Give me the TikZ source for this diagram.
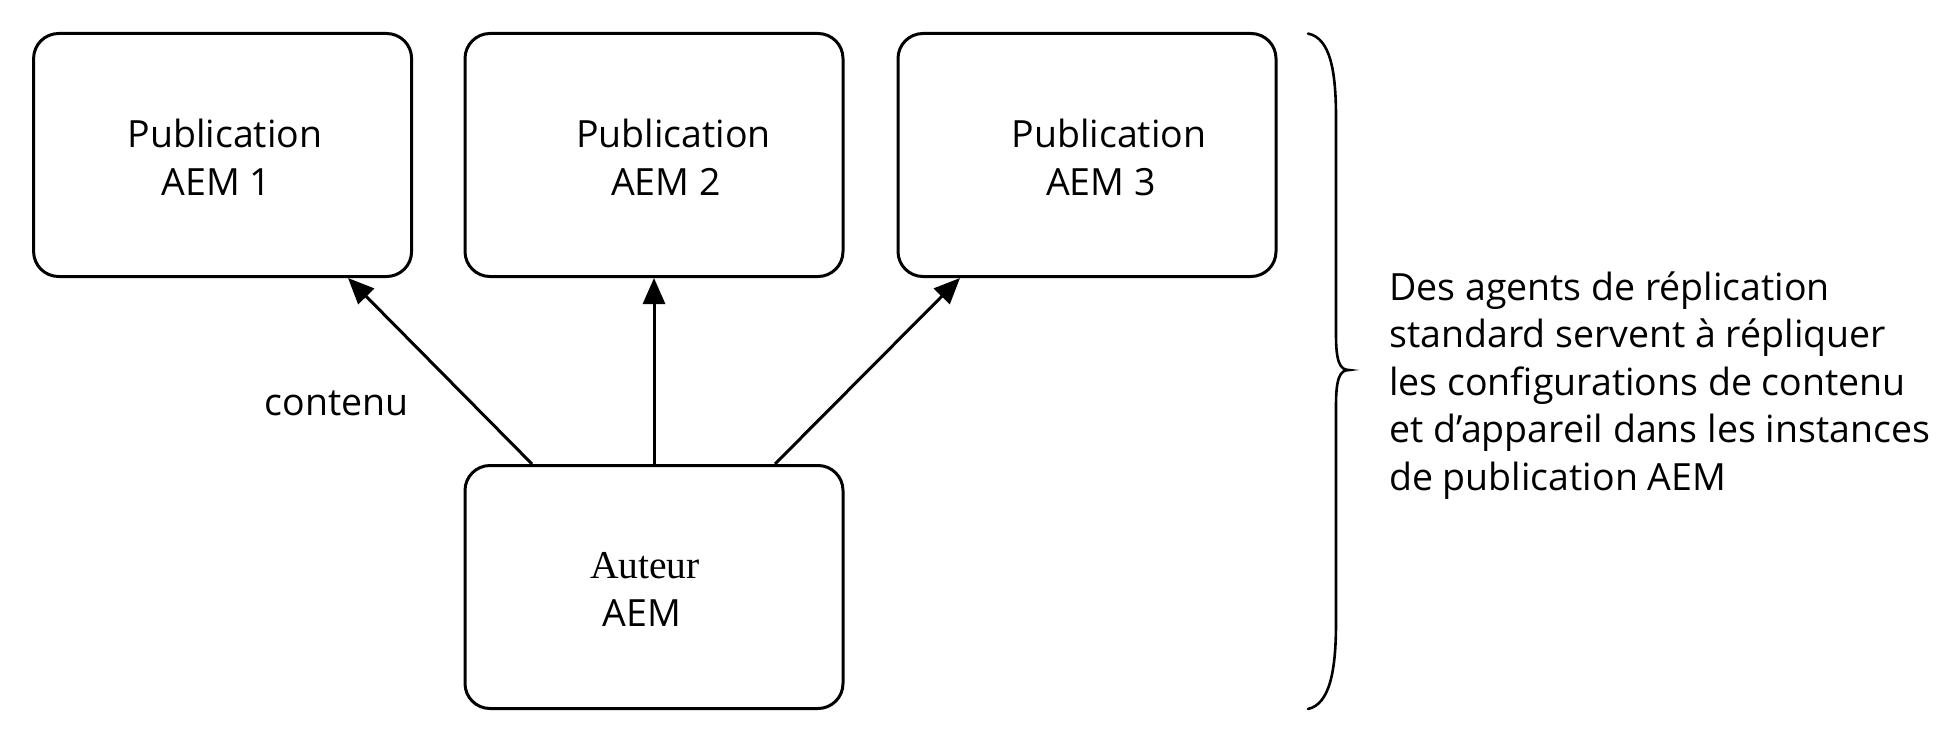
\documentclass[tikz,border=0pt]{standalone}
\usepackage{fontspec}
\setmainfont{Open Sans}
\newfontfamily\serifA{Liberation Serif}
\usetikzlibrary{arrows.meta}
\begin{document}
\begin{tikzpicture}[x=1pt,y=-1pt,
  box/.style={draw, line width=3pt, rounded corners=25pt, minimum width=378pt, minimum height=243pt, inner sep=0pt},
  txt/.style={anchor=base, font=\fontsize{37.5}{48}\selectfont, inner sep=0pt},
  side/.style={anchor=base west, font=\fontsize{37.5}{48}\selectfont, inner sep=0pt},
  arr/.style={line width=3pt, -{Triangle[length=26pt,width=22pt]}},
  bracepath/.style={line width=2.6pt, line cap=round}]
\useasboundingbox (0,0) rectangle (1950,741);
% boxes
\node[box] (p1) at (222.6,155) {};
\node[box] (p2) at (654,155) {};
\node[box] (p3) at (1087,155) {};
\node[box] (au) at (654,587) {};
% box texts
\node[txt] (p1a) at (225,147) {Publication};
\node[txt] (p1b) at (216.5,195) {AEM 1};
\node[txt] (p2a) at (673.5,147) {Publication};
\node[txt] (p2b) at (666,195) {AEM 2};
\node[txt] (p3a) at (1109,147) {Publication};
\node[txt] (p3b) at (1101,195) {AEM 3};
\node[txt, font=\serifA\fontsize{39.5}{48}\selectfont] (aua) at (645,578) {Auteur};
\node[txt] (aub) at (641.7,626) {AEM};
% label
\node[txt] (lab) at (336.5,415) {contenu};
% arrows
\draw[arr] ([xshift=-122pt]au.north) -- ([xshift=125.4pt]p1.south);
\draw[arr] (au.north) -- (p2.south);
\draw[arr] ([xshift=121pt]au.north) -- ([xshift=-127pt]p3.south);
% brace
\draw[bracepath] (1308,33.6) .. controls (1330,38) and (1336,70) .. (1336,118)
  -- (1336,335) .. controls (1336,362) and (1340,370) .. (1349,370)
  .. controls (1340,370) and (1336,378) .. (1336,405)
  -- (1336,622) .. controls (1336,670) and (1330,704) .. (1308,709);
% side text
\node[side] (s1) at (1389,300) {Des agents de réplication};
\node[side] (s2) at (1389,347.5) {standard servent à répliquer};
\node[side] (s3) at (1389,395) {les configurations de contenu};
\node[side] (s4) at (1389,442.5) {et d’appareil dans les instances};
\node[side] (s5) at (1389,490) {de publication AEM};
\end{tikzpicture}
\end{document}
